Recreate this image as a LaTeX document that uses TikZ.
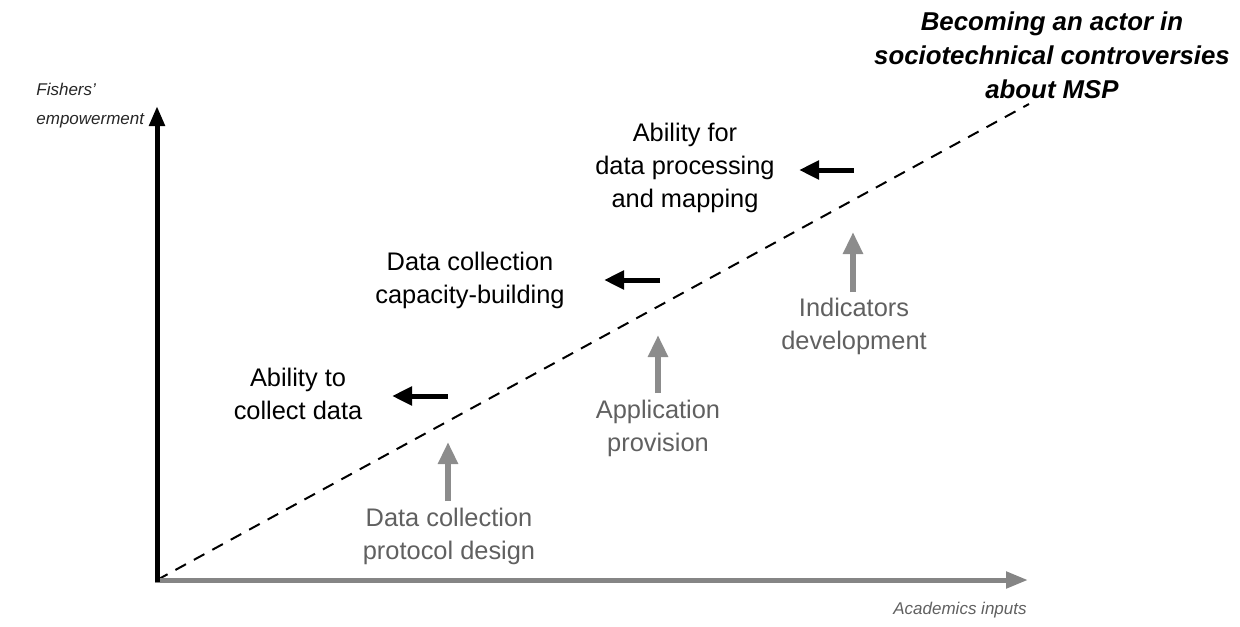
\documentclass[tikz,border=0pt]{standalone}
\usepackage{fontspec}
\setmainfont{Liberation Sans}
\usetikzlibrary{arrows.meta}
\definecolor{axgray}{HTML}{858585}
\definecolor{txgray}{HTML}{606060}
\definecolor{argray}{HTML}{8C8C8C}
\tikzset{
  blacktxt/.style={align=center, text=black, font=\fontsize{12.7pt}{16.5pt}\selectfont, inner sep=0pt},
  graytxt/.style={align=center, text=txgray, font=\fontsize{12.7pt}{16.5pt}\selectfont, inner sep=0pt},
  axislbl/.style={font=\fontsize{8.5pt}{14.5pt}\selectfont\itshape, inner sep=0pt},
  blackarr/.style={line width=2.5pt, -{Triangle[length=10pt,width=9pt]}, black},
  grayarr/.style={line width=3pt, -{Triangle[length=11pt,width=9.5pt]}, argray},
  yaxis/.style={line width=2.5pt, -{Triangle[length=10pt,width=7.5pt]}, black},
  xaxis/.style={line width=2.5pt, -{Triangle[length=11pt,width=8pt]}, axgray},
  diag/.style={line width=1pt, dash pattern=on 6pt off 4.5pt, black}
}
\begin{document}
\begin{tikzpicture}[x=0.5pt,y=-0.5pt]
\useasboundingbox (0,0) rectangle (1240,626);
% axes
\coordinate (O) at (157,580);
\coordinate (Ytop) at (157,106);
\coordinate (Xend) at (1028,580);
\coordinate (Dend) at (1029,104);
\draw[diag] (O) -- (Dend);
\draw[xaxis] (155,580) -- (Xend);
\draw[yaxis] (157,582) -- (Ytop);
% axis labels
\node[axislbl, align=left, anchor=west, text=black!85] (ylbl) at (36,106) {Fishers'\\empowerment};
\node[axislbl, anchor=east, text=txgray] (xlbl) at (1027,610) {Academics inputs};
% title
\node[align=center, font=\fontsize{12.9pt}{17pt}\selectfont\bfseries\itshape, inner sep=0pt] (title) at (1052,55) {Becoming an actor in\\sociotechnical controversies\\about MSP};
% black texts
\node[blacktxt] (t1) at (298,394) {Ability to\\collect data};
\node[blacktxt] (t2) at (470,280) {Data collection\\capacity-building};
\node[blacktxt] (t3) at (685,168) {Ability for\\data processing\\and mapping};
% gray texts
\node[graytxt] (g1) at (449,536) {Data collection\\protocol design};
\node[graytxt] (g2) at (658,428) {Application\\provision};
\node[graytxt] (g3) at (854,326) {Indicators\\development};
% black arrows
\coordinate (a1s) at (448,396); \coordinate (a1e) at (392,396);
\coordinate (a2s) at (660,280); \coordinate (a2e) at (604,280);
\coordinate (a3s) at (854,170); \coordinate (a3e) at (799,170);
\draw[blackarr] (a1s) -- (a1e);
\draw[blackarr] (a2s) -- (a2e);
\draw[blackarr] (a3s) -- (a3e);
% gray arrows
\coordinate (b1s) at (448,501); \coordinate (b1e) at (448,442);
\coordinate (b2s) at (658,393); \coordinate (b2e) at (658,335);
\coordinate (b3s) at (853,292); \coordinate (b3e) at (853,232);
\draw[grayarr] (b1s) -- (b1e);
\draw[grayarr] (b2s) -- (b2e);
\draw[grayarr] (b3s) -- (b3e);
\end{tikzpicture}
\end{document}
